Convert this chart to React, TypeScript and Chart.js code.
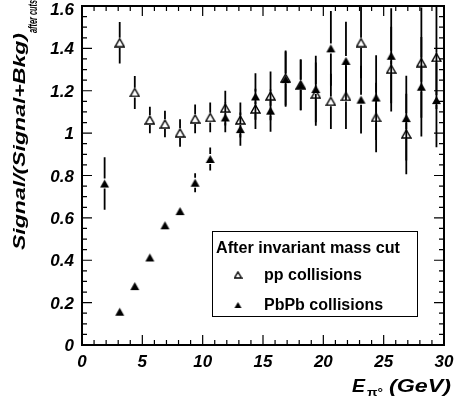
import { useEffect, useRef } from "react";
import { Chart, registerables } from "chart.js";
Chart.register(...registerables);

const E_BINS = [1.875, 3.125, 4.375, 5.625, 6.875, 8.125, 9.375, 10.625, 11.875, 13.125, 14.375, 15.625, 16.875, 18.125, 19.375, 20.625, 21.875, 23.125, 24.375, 25.625, 26.875, 28.125, 29.375];
const PP_VALUES = [null, 1.427, 1.192, 1.062, 1.043, 1.001, 1.067, 1.074, 1.118, 1.062, 1.114, 1.176, 1.26, 1.228, 1.184, 1.15, 1.173, 1.427, 1.074, 1.302, 0.996, 1.333, 1.357];
const PP_ERRORS = [null, 0.098, 0.078, 0.063, 0.063, 0.065, 0.068, 0.07, 0.082, 0.083, 0.095, 0.115, 0.13, 0.12, 0.149, 0.13, 0.153, 0.168, 0.164, 0.2, 0.19, 0.26, 0.243];
const PBPB_VALUES = [0.762, 0.157, 0.278, 0.413, 0.565, 0.632, 0.766, 0.878, 1.074, 1.019, 1.173, 1.106, 1.255, 1.228, 1.208, 1.4, 1.341, 1.158, 1.168, 1.365, 1.071, 1.219, 1.156];
const PBPB_ERRORS = [0.124, 0.01, 0.01, 0.012, 0.015, 0.02, 0.045, 0.054, 0.07, 0.078, 0.11, 0.1, 0.13, 0.12, 0.157, 0.176, 0.185, 0.16, 0.2, 0.224, 0.2, 0.235, 0.223];

const X_TICKS = [0, 5, 10, 15, 20, 25, 30];
const X_TICK_LABELS = ["0", "5", "10", "15", "20", "25", "30"];
const Y_TICKS = [0, 0.2, 0.4, 0.6, 0.8, 1, 1.2, 1.4, 1.6];
const Y_TICK_LABELS = ["0", "0.2", "0.4", "0.6", "0.8", "1", "1.2", "1.4", "1.6"];

const LEGEND_TITLE = "After invariant mass cut";
const PP_LABEL = "pp collisions";
const PBPB_LABEL = "PbPb collisions";
const Y_TITLE = "Signal/(Signal+Bkg)";
const Y_TITLE_SUB = "after cuts";

const FAMILY = "'Liberation Sans', Arial, Helvetica, sans-serif";

function makeTriangle(w: number, h: number, filled: boolean) {
  const c = document.createElement("canvas");
  c.width = w + 2;
  c.height = h + 2;
  const g = c.getContext("2d")!;
  g.beginPath();
  g.moveTo(c.width / 2, 1);
  g.lineTo(c.width - 1, h + 1);
  g.lineTo(1, h + 1);
  g.closePath();
  if (filled) {
    g.fillStyle = "#000";
    g.fill();
  } else {
    g.strokeStyle = "#000";
    g.lineWidth = 1.4;
    g.stroke();
  }
  return c;
}

function drawStretched(ctx: CanvasRenderingContext2D, text: string, x: number, y: number, font: string, width: number, angle = 0) {
  ctx.save();
  ctx.translate(x, y);
  ctx.rotate(angle);
  ctx.font = font;
  ctx.textAlign = "left";
  ctx.textBaseline = "alphabetic";
  const w = ctx.measureText(text).width;
  ctx.scale(width / w, 1);
  ctx.fillText(text, 0, 0);
  ctx.restore();
}

export default function App() {
  const ref = useRef<HTMLCanvasElement | null>(null);
  useEffect(() => {
    const canvas = ref.current;
    if (!canvas) return;
    const openTri = makeTriangle(9, 8, false);
    const fullTri = makeTriangle(9, 8, true);
    const openTriSmall = makeTriangle(7, 6, false);
    const fullTriSmall = makeTriangle(7, 6, true);

    const ppPoints = E_BINS.map((x, i) => ({ x, y: PP_VALUES[i] })).filter((p) => p.y !== null) as { x: number; y: number }[];
    const pbPoints = E_BINS.map((x, i) => ({ x, y: PBPB_VALUES[i] }));

    const rootPlugin = {
      id: "rootStyle",
      beforeDatasetsDraw(chart: any) {
        const { ctx, chartArea: a } = chart;
        const xs = chart.scales.x;
        const ys = chart.scales.y;
        ctx.save();
        ctx.beginPath();
        ctx.rect(a.left, a.top, a.right - a.left, a.bottom - a.top);
        ctx.clip();
        ctx.strokeStyle = "#000";
        ctx.lineWidth = 1.8;
        const gap = 5;
        const series: [Array<number | null>, Array<number | null>][] = [
          [PP_VALUES, PP_ERRORS],
          [PBPB_VALUES, PBPB_ERRORS],
        ];
        for (const [vals, errs] of series) {
          E_BINS.forEach((e, i) => {
            const v = vals[i];
            const er = errs[i];
            if (v === null || er === null) return;
            const px = xs.getPixelForValue(e);
            const py = ys.getPixelForValue(v);
            const top = ys.getPixelForValue(v + er);
            const bot = ys.getPixelForValue(v - er);
            ctx.beginPath();
            if (top < py - gap) {
              ctx.moveTo(px, top);
              ctx.lineTo(px, py - gap);
            }
            if (bot > py + gap) {
              ctx.moveTo(px, py + gap);
              ctx.lineTo(px, bot);
            }
            ctx.stroke();
          });
        }
        ctx.restore();
      },
      afterDraw(chart: any) {
        const { ctx, chartArea: a } = chart;
        const xs = chart.scales.x;
        const ys = chart.scales.y;
        ctx.save();
        ctx.strokeStyle = "#000";
        ctx.fillStyle = "#000";
        // ticks
        ctx.lineWidth = 1.2;
        ctx.beginPath();
        for (let k = 0; k <= 30; k++) {
          const px = xs.getPixelForValue(k);
          const len = k % 5 === 0 ? 10 : 5;
          ctx.moveTo(px, a.bottom);
          ctx.lineTo(px, a.bottom - len);
          ctx.moveTo(px, a.top);
          ctx.lineTo(px, a.top + len);
        }
        for (let k = 0; k <= 32; k++) {
          const py = ys.getPixelForValue(k * 0.05);
          const len = k % 4 === 0 ? 10 : 5;
          ctx.moveTo(a.left, py);
          ctx.lineTo(a.left + len, py);
          ctx.moveTo(a.right, py);
          ctx.lineTo(a.right - len, py);
        }
        ctx.stroke();
        // frame
        ctx.lineWidth = 2;
        ctx.strokeRect(a.left, a.top, a.right - a.left, a.bottom - a.top);

        // tick labels
        ctx.font = `italic bold 17px ${FAMILY}`;
        ctx.textBaseline = "alphabetic";
        ctx.textAlign = "center";
        X_TICKS.forEach((v, i) => {
          ctx.fillText(X_TICK_LABELS[i], xs.getPixelForValue(v), 367);
        });
        ctx.textAlign = "right";
        Y_TICKS.forEach((v, i) => {
          let py = ys.getPixelForValue(v) + 6;
          if (i === Y_TICKS.length - 1) py = Math.max(py, 15);
          ctx.fillText(Y_TICK_LABELS[i], 74, py);
        });

        // axis titles
        drawStretched(ctx, Y_TITLE, 24.5, 250, `italic bold 17px ${FAMILY}`, 217, -Math.PI / 2);
        drawStretched(ctx, Y_TITLE_SUB, 37, 33, `italic bold 12px ${FAMILY}`, 33, -Math.PI / 2);
        drawStretched(ctx, "E", 352, 392, `italic bold 18px ${FAMILY}`, 13);
        drawStretched(ctx, "\u03c0\u00b0", 367, 396, `bold 11px ${FAMILY}`, 16);
        drawStretched(ctx, "(GeV)", 389, 392, `italic bold 18px ${FAMILY}`, 62);

        // legend
        ctx.lineWidth = 1;
        ctx.fillStyle = "#fff";
        ctx.fillRect(212.5, 231.5, 205, 85);
        ctx.strokeRect(212.5, 231.5, 205, 85);
        ctx.fillStyle = "#000";
        drawStretched(ctx, LEGEND_TITLE, 216, 253, `bold 16px ${FAMILY}`, 184);
        ctx.font = `bold 16px ${FAMILY}`;
        ctx.textAlign = "left";
        ctx.fillText(PP_LABEL, 264, 280);
        ctx.fillText(PBPB_LABEL, 264, 310);
        ctx.drawImage(openTriSmall, 238 - openTriSmall.width / 2, 275 - openTriSmall.height / 2);
        ctx.drawImage(fullTriSmall, 238 - fullTriSmall.width / 2, 305 - fullTriSmall.height / 2);
        ctx.restore();
      },
    };

    const chart = new Chart(canvas, {
      type: "scatter",
      data: {
        datasets: [
          { label: PBPB_LABEL, data: pbPoints, pointStyle: fullTri as any, order: 0, pointRadius: 5, showLine: false },
          { label: PP_LABEL, data: ppPoints, pointStyle: openTri as any, order: 1, pointRadius: 5, showLine: false },
        ],
      },
      options: {
        responsive: false,
        animation: false,
        devicePixelRatio: 1,
        events: [],
        layout: { padding: { left: 82, right: 10, top: 5, bottom: 56 } },
        scales: {
          x: { type: "linear", min: 0, max: 30, display: false },
          y: { type: "linear", min: 0, max: 1.6, display: false },
        },
        plugins: { legend: { display: false }, tooltip: { enabled: false } },
      },
      plugins: [rootPlugin],
    });
    return () => chart.destroy();
  }, []);
  return (
    <div style={{ position: "fixed", left: 0, top: 0, width: 454, height: 401, background: "#fff" }}>
      <canvas ref={ref} width={454} height={401} style={{ display: "block" }} />
    </div>
  );
}
